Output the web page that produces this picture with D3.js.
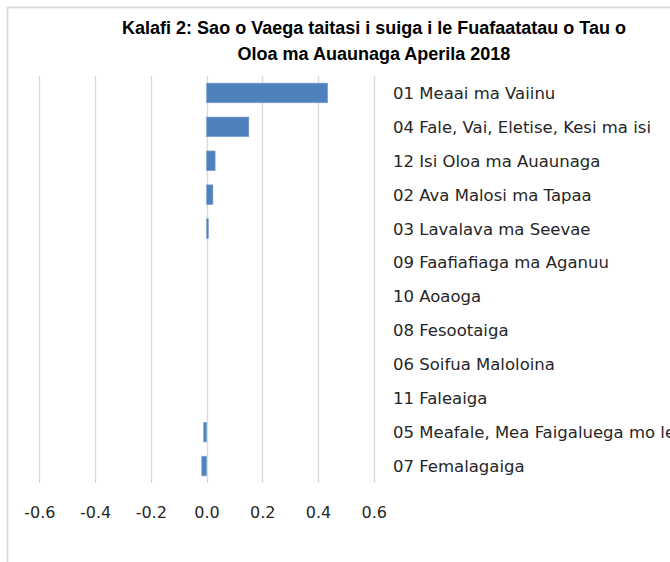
<!DOCTYPE html>
<html>
<head>
<meta charset="utf-8">
<script src="https://cdn.jsdelivr.net/npm/d3@7"></script>
<style>
  body { margin: 0; background: #fff; }
  svg { display: block; }
</style>
</head>
<body>
<div id="chart"></div>
<script>
// data
const categories = [
    "01 Meaai ma Vaiinu",
    "04 Fale, Vai, Eletise, Kesi ma isi",
    "12 Isi Oloa ma Auaunaga",
    "02 Ava Malosi ma Tapaa",
    "03 Lavalava ma Seevae",
    "09 Faafiafiaga ma Aganuu",
    "10 Aoaoga",
    "08 Fesootaiga",
    "06 Soifua Maloloina",
    "11 Faleaiga",
    "05 Meafale, Mea Faigaluega mo le Fale",
    "07 Femalagaiga"
];
const values = [0.435, 0.152, 0.031, 0.023, 0.007, 0, 0, 0, 0, 0, -0.01, -0.017];
const ticks = [-0.6, -0.4, -0.2, 0.0, 0.2, 0.4, 0.6];
const titleLines = [
    "Kalafi 2: Sao o Vaega taitasi i suiga i le Fuafaatatau o Tau o",
    "Oloa ma Auaunaga Aperila 2018"
];

const width = 670, height = 562;

const svg = d3.select("#chart")
    .append("svg")
    .attr("width", width)
    .attr("height", height);

// chart frame (cut off at right and bottom like the screenshot)
svg.append("rect")
    .attr("x", 7.5)
    .attr("y", 7.5)
    .attr("width", 800)
    .attr("height", 700)
    .attr("fill", "none")
    .attr("stroke", "#d9d9d9")
    .attr("stroke-width", 1.8);

const x = d3.scaleLinear()
    .domain([-0.6, 0.6])
    .range([39.3, 373.7]);

const y = d3.scaleBand()
    .domain(categories)
    .range([76, 483])
    .paddingInner(0.42)
    .paddingOuter(0.21);

// title
svg.append("g")
    .selectAll("text")
    .data(titleLines)
    .enter()
    .append("text")
    .attr("x", 374)
    .attr("y", (d, i) => 34 + i * 26)
    .attr("text-anchor", "middle")
    .style("font-family", "Liberation Sans, Arial, sans-serif")
    .style("font-weight", "bold")
    .style("font-size", "18px")
    .style("fill", "#000")
    .text(d => d);

// vertical gridlines
svg.append("g")
    .selectAll("line")
    .data(ticks)
    .enter()
    .append("line")
    .attr("x1", d => Math.round(x(d)) + 0.5)
    .attr("x2", d => Math.round(x(d)) + 0.5)
    .attr("y1", 76)
    .attr("y2", 483)
    .attr("stroke", "#d9d9d9")
    .attr("stroke-width", 1.3);

// bars
svg.append("g")
    .selectAll("rect")
    .data(values)
    .enter()
    .append("rect")
    .attr("x", d => x(Math.min(0, d)))
    .attr("y", (d, i) => y(categories[i]))
    .attr("width", d => Math.max(1, Math.abs(x(d) - x(0))))
    .attr("height", y.bandwidth())
    .attr("fill", "#4f81bd")
    .attr("stroke", "#7fa3d1")
    .attr("stroke-width", 0.6)
    .style("display", d => d === 0 ? "none" : null);

// category labels on the right
svg.append("g")
    .selectAll("text")
    .data(categories)
    .enter()
    .append("text")
    .attr("x", 393)
    .attr("y", d => y(d) + y.bandwidth() / 2)
    .attr("dy", "0.36em")
    .style("font-family", "DejaVu Sans, sans-serif")
    .style("font-size", "16.5px")
    .style("fill", "#262626")
    .text(d => d);

// x axis labels
const xAxis = d3.axisBottom(x)
    .tickValues(ticks)
    .tickSize(0)
    .tickPadding(0)
    .tickFormat(d => d.toFixed(1));

const gx = svg.append("g")
    .attr("transform", "translate(0,507)")
    .call(xAxis);
gx.select(".domain").remove();
gx.selectAll("text")
    .style("font-family", "DejaVu Sans, sans-serif")
    .style("font-size", "16px")
    .style("fill", "#262626");
</script>
</body>
</html>
